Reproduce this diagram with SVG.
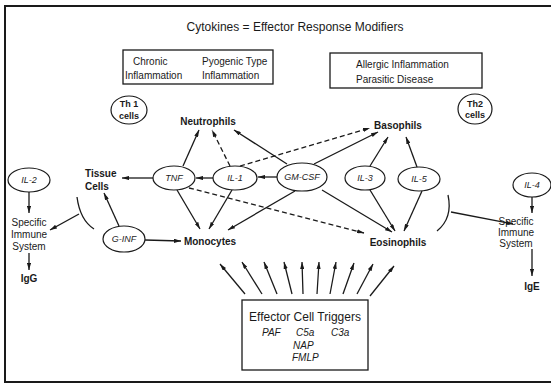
<svg xmlns="http://www.w3.org/2000/svg" width="551" height="384" viewBox="0 0 551 384">
<style>
  text { font-family: "Liberation Sans", Arial, sans-serif; fill: #1a1a1a; }
  .title { font-size: 12px; }
  .box { fill: none; stroke: #1a1a1a; stroke-width: 1.3; }
  .btxt { font-size: 10px; }
  .cell { font-size: 10px; font-weight: bold; }
  .cyto { fill: #fff; stroke: #1a1a1a; stroke-width: 1.2; }
  .ctxt { font-size: 9px; font-style: italic; text-anchor: middle; }
  .thtxt { font-size: 9px; font-weight: bold; text-anchor: middle; }
  .sys { font-size: 10px; text-anchor: middle; }
  .ig { font-size: 10px; font-weight: bold; text-anchor: middle; }
  .trig { font-size: 10px; font-style: italic; }
  .c { fill: none; stroke: #1a1a1a; stroke-width: 1.3; marker-end: url(#ah); }
  .d { stroke-dasharray: 5 3; }
  .rec { fill: none; stroke: #1a1a1a; stroke-width: 1.3; }
</style>
<defs>
  <marker id="ah" viewBox="0 0 10 6" refX="10" refY="3" markerWidth="7" markerHeight="4.2" markerUnits="userSpaceOnUse" orient="auto">
    <path d="M0 0 L10 3 L0 6 Z" fill="#1a1a1a"/>
  </marker>
</defs>
<rect width="551" height="384" fill="#ffffff"/>
<path d="M551 6 H5 V382 H551" fill="none" stroke="#1a1a1a" stroke-width="2"/>

<text class="title" x="295" y="31" text-anchor="middle">Cytokines = Effector Response Modifiers</text>

<g id="box-chronic">
  <rect class="box" x="123" y="50" width="150" height="34"/>
  <text class="btxt" x="133" y="65">Chronic</text>
  <text class="btxt" x="202" y="65">Pyogenic Type</text>
  <text class="btxt" x="125" y="79">Inflammation</text>
  <text class="btxt" x="202" y="79">Inflammation</text>
</g>
<g id="box-allergic">
  <rect class="box" x="330" y="53" width="152" height="35"/>
  <text class="btxt" x="356" y="68">Allergic Inflammation</text>
  <text class="btxt" x="356" y="83">Parasitic Disease</text>
</g>

<g id="th1">
  <ellipse class="cyto" cx="129" cy="110" rx="18" ry="14"/>
  <text class="thtxt" x="129" y="107">Th 1</text>
  <text class="thtxt" x="129" y="119">cells</text>
</g>
<g id="th2">
  <ellipse class="cyto" cx="475" cy="109" rx="17" ry="15"/>
  <text class="thtxt" x="475" y="107">Th2</text>
  <text class="thtxt" x="475" y="118">cells</text>
</g>

<g id="connectors">
  <path class="c" d="M183 166 L199 130"/>
  <path class="c d" d="M230 166 L212 130"/>
  <path class="c" d="M287 164 L234 130"/>
  <path class="c d" d="M240 166 L370 128"/>
  <path class="c" d="M314 164 L378 132"/>
  <path class="c" d="M370 166 L388 137"/>
  <path class="c" d="M417 167 L406 137"/>
  <path class="c" d="M277 177 L258 177"/>
  <path class="c" d="M213 178 L196 178"/>
  <path class="c" d="M153 178 L122 178"/>
  <path class="c" d="M177 190 L200 229"/>
  <path class="c" d="M232 190 L209 229"/>
  <path class="c" d="M295 191 L228 230"/>
  <path class="c d" d="M189 188 L364 233"/>
  <path class="c" d="M322 190 L392 232"/>
  <path class="c" d="M370 190 L395 231"/>
  <path class="c" d="M422 191 L404 231"/>
  <path class="c" d="M145 240 L181 241"/>
  <path class="c" d="M119 226 L104 193"/>
  <path class="c" d="M29 192 L29 213"/>
  <path class="c" d="M29 253 L29 270"/>
  <path class="rec" d="M77 197 Q80 220 94 229"/>
  <path class="c" d="M79 214 L50 230"/>
  <path class="c" d="M532 197 L532 213"/>
  <path class="c" d="M532 249 L532 276"/>
  <path class="rec" d="M448 195 Q453 218 437 231"/>
  <path class="c" d="M451 212 L513 224"/>
  <path class="c" d="M245 294 L220 264"/>
  <path class="c" d="M262 294 L242 262"/>
  <path class="c" d="M277 294 L264 262"/>
  <path class="c" d="M292 294 L284 262"/>
  <path class="c" d="M303 294 L302 262"/>
  <path class="c" d="M317 294 L319 262"/>
  <path class="c" d="M330 294 L336 262"/>
  <path class="c" d="M343 294 L354 263"/>
  <path class="c" d="M357 294 L373 264"/>
  <path class="c" d="M370 296 L394 266"/>
</g>

<g id="neutrophils"><text class="cell" x="208" y="125" text-anchor="middle">Neutrophils</text></g>
<g id="basophils"><text class="cell" x="398" y="129" text-anchor="middle">Basophils</text></g>
<g id="tissue-cells">
  <text class="cell" x="85" y="177">Tissue</text>
  <text class="cell" x="85" y="190">Cells</text>
</g>
<g id="monocytes"><text class="cell" x="210" y="245" text-anchor="middle">Monocytes</text></g>
<g id="eosinophils"><text class="cell" x="398" y="246" text-anchor="middle">Eosinophils</text></g>

<g id="tnf"><ellipse class="cyto" cx="174" cy="178" rx="21" ry="12"/><text class="ctxt" x="174" y="181">TNF</text></g>
<g id="il1"><ellipse class="cyto" cx="235" cy="178" rx="22" ry="12"/><text class="ctxt" x="235" y="181">IL-1</text></g>
<g id="gmcsf"><ellipse class="cyto" cx="302" cy="177" rx="25" ry="14"/><text class="ctxt" x="302" y="180">GM-CSF</text></g>
<g id="il3"><ellipse class="cyto" cx="365" cy="178" rx="20" ry="12"/><text class="ctxt" x="365" y="181">IL-3</text></g>
<g id="il5"><ellipse class="cyto" cx="419" cy="179" rx="21" ry="12"/><text class="ctxt" x="419" y="182">IL-5</text></g>
<g id="il2"><ellipse class="cyto" cx="29" cy="180" rx="21" ry="12"/><text class="ctxt" x="29" y="183">IL-2</text></g>
<g id="il4"><ellipse class="cyto" cx="532" cy="185" rx="19" ry="12"/><text class="ctxt" x="532" y="188">IL-4</text></g>
<g id="ginf"><ellipse class="cyto" cx="124" cy="239" rx="21" ry="13"/><text class="ctxt" x="124" y="242">G-INF</text></g>

<g id="immune-left">
  <text class="sys" x="29" y="226">Specific</text>
  <text class="sys" x="29" y="238">Immune</text>
  <text class="sys" x="29" y="250">System</text>
</g>
<g id="igg"><text class="ig" x="29" y="282">IgG</text></g>
<g id="immune-right">
  <text class="sys" x="516" y="225" text-anchor="start">Specific</text>
  <text class="sys" x="516" y="236" text-anchor="start">Immune</text>
  <text class="sys" x="516" y="247" text-anchor="start">System</text>
</g>
<g id="ige"><text class="ig" x="532" y="290">IgE</text></g>

<g id="triggers">
  <rect class="box" x="242" y="300" width="126" height="70"/>
  <text x="305" y="321" font-size="12" text-anchor="middle">Effector Cell Triggers</text>
  <text class="trig" x="262" y="336">PAF</text>
  <text class="trig" x="296" y="336">C5a</text>
  <text class="trig" x="331" y="336">C3a</text>
  <text class="trig" x="293" y="349">NAP</text>
  <text class="trig" x="292" y="361">FMLP</text>
</g>
</svg>
